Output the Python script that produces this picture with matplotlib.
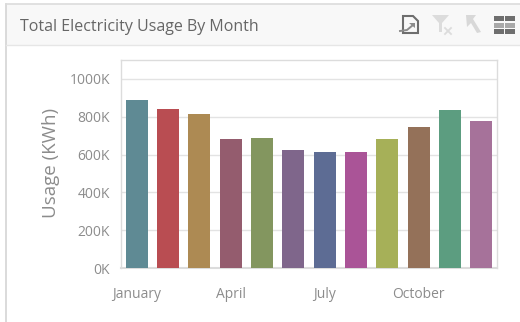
import matplotlib
matplotlib.use('Agg')
import matplotlib.pyplot as plt
from matplotlib.patches import Rectangle, Polygon

months = ['January', 'February', 'March', 'April', 'May', 'June', 'July',
          'August', 'September', 'October', 'November', 'December']
usage = [889, 843, 812, 682, 688, 624, 616, 616, 680, 746, 836, 778]
bar_colors = ['#5f8a94', '#b94d52', '#ad8a53', '#945c6e', '#83965f', '#7f668b',
              '#5d6c94', '#aa5497', '#a6b058', '#947159', '#5c9d80', '#a6729a']
y_ticks = [0, 200, 400, 600, 800, 1000]
shown_months = [0, 3, 6, 9]
title = 'Total Electricity Usage By Month'

W, H = 520, 322
plt.rcParams['font.family'] = ['Open Sans', 'DejaVu Sans']

fig = plt.figure(figsize=(W / 100, H / 100), dpi=100, facecolor='white')

# panel chrome, in pixel coordinates
bg = fig.add_axes([0, 0, 1, 1])
bg.set_xlim(0, W)
bg.set_ylim(H, 0)
bg.axis('off')
bg.add_patch(Rectangle((6, 4), 520, 41, fc='#f8f8f8', ec='none'))
bg.plot([6, 6], [4, H], color='#d4d4d4', lw=1.2)
bg.plot([6, W], [4, 4], color='#dcdcdc', lw=1.2)
bg.plot([6, W], [45, 45], color='#e6e6e6', lw=1)
bg.text(20, 26.5, title, fontsize=11.5, color='#666666', va='center', ha='left')

# export icon
bg.add_patch(Polygon([(403, 16), (413, 16), (418, 21), (418, 33), (403, 33)],
                     closed=True, fc='none', ec='#6e6e6e', lw=1.5))
bg.plot([400, 407, 413], [31, 30, 25], color='#8c8c8c', lw=1.4)
bg.add_patch(Polygon([(409, 23), (415, 23), (415, 28)], closed=True, fc='#8c8c8c', ec='none'))
# clear filter icon
bg.add_patch(Polygon([(432, 15), (449, 15), (442, 23), (442, 32), (439, 32), (439, 23)],
                     closed=True, fc='#dcdcdc', ec='none'))
bg.plot([445, 451], [28, 34], color='#dcdcdc', lw=1.3)
bg.plot([451, 445], [28, 34], color='#dcdcdc', lw=1.3)
# drill up icon
bg.add_patch(Polygon([(466, 15), (476, 15), (473, 19), (481, 32), (477, 33), (471, 23), (467, 27)],
                     closed=True, fc='#d8d8d8', ec='none'))
# grid icon
for ix, x0 in enumerate([494, 505]):
    for iy, y0 in enumerate([16, 23, 29]):
        shade = '#6e6e6e' if iy != 1 else '#a8a8a8'
        bg.add_patch(Rectangle((x0, y0), 9.5, 4.5, fc=shade, ec='none'))

ax = fig.add_axes([121 / W, 1 - 268 / H, 376 / W, 208 / H], facecolor='none')
x = range(len(months))
ax.bar(x, usage, width=0.7, color=bar_colors, zorder=3)
ax.set_xlim(-0.5, 11.5)
ax.set_ylim(0, 1100)

ax.set_yticks(y_ticks)
ax.set_yticklabels([f'{v}K' for v in y_ticks], fontsize=10, color='#8c8c8c')
ax.set_xticks(shown_months)
ax.set_xticklabels([months[i] for i in shown_months], fontsize=10, color='#8c8c8c')
ax.tick_params(axis='both', length=0)
ax.tick_params(axis='x', pad=13.5)
ax.tick_params(axis='y', pad=8)
ax.grid(axis='y', color='#e3e3e3', lw=1, zorder=0)

for side in ax.spines:
    ax.spines[side].set_color('#dcdcdc')
    ax.spines[side].set_linewidth(1)
ax.spines['bottom'].set_linewidth(1.5)

fig.text(51 / W, 1 - 163 / H, 'Usage (KWh)', rotation=90, fontsize=13.5,
         color='#8c8c8c', ha='center', va='center')

fig.savefig('out.png', dpi=100)
